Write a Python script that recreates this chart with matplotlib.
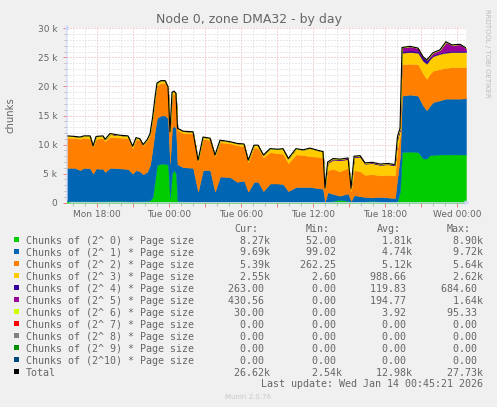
import numpy as np
import matplotlib
matplotlib.use("Agg")
import matplotlib.pyplot as plt
from matplotlib.patches import Rectangle

# hours relative to Mon 18:00
hours = [-2.50, -1.83, -1.42, -1.08, -0.58, -0.33, -0.08, 0.50, 0.67, 1.08, 1.92, 2.58, 2.97, 3.25,
         3.58, 3.83, 4.17, 4.42, 4.64, 4.83, 5.00, 5.33, 5.67, 5.92, 6.08, 6.25, 6.42, 6.58, 6.71,
         7.17, 8.00, 8.42, 8.83, 9.42, 9.83, 10.25, 11.08, 11.67, 12.25, 12.60, 13.08, 13.42, 13.86,
         14.42, 15.08, 15.50, 15.94, 16.58, 17.17, 17.75, 18.42, 18.83, 19.00,
         19.22, 19.67, 20.25, 20.92, 21.17, 21.42, 21.92, 22.33, 22.92, 23.58, 24.25, 24.83, 25.04, 25.25,
         25.42, 26.08, 26.75, 27.17, 27.47, 27.75, 28.00, 28.58, 29.08, 29.58, 30.25, 30.75]

# values in thousands of chunks
order0 = [0.25, 0.25, 0.25, 0.25, 0.25, 0.20, 0.25, 0.25, 0.25, 0.30, 0.30, 0.25, 0.20, 0.25,
          0.25, 0.25, 0.30, 0.40, 1.00, 4.00, 6.50, 6.70, 6.70, 6.50, 0.80, 5.00, 5.60, 5.00, 0.30,
          0.20, 0.20, 0.10, 0.20, 0.20, 0.10, 0.20, 0.20, 0.20, 0.20, 0.10, 0.20, 0.20, 0.10,
          0.20, 0.20, 0.20, 0.10, 0.20, 0.20, 0.20, 0.20, 0.10, 0.05,
          0.10, 0.30, 0.50, 0.30, 0.10, 0.10, 0.10, 0.20, 0.30, 0.20, 0.10, 0.10, 0.30, 2.00,
          8.70, 8.80, 8.70, 7.60, 7.60, 8.20, 8.20, 8.30, 8.30, 8.30, 8.30, 8.27]
order1 = [5.75, 5.75, 5.35, 5.75, 5.65, 4.80, 5.65, 5.55, 5.05, 5.70, 5.60, 5.55, 4.80, 5.35,
          5.15, 4.65, 5.00, 6.10, 8.50, 8.50, 8.10, 8.30, 8.30, 8.00, 6.00, 7.90, 7.60, 7.80, 6.30,
          5.90, 5.80, 1.80, 5.40, 5.40, 1.80, 4.30, 4.20, 3.40, 3.60, 1.80, 3.40, 3.40, 1.90,
          3.10, 3.10, 3.00, 1.90, 2.50, 2.50, 2.50, 2.30, 2.30, 0.15,
          1.70, 1.20, 0.70, 1.30, 0.20, 1.20, 1.00, 0.80, 0.60, 0.80, 0.80, 0.70, 4.20, 6.00,
          9.70, 9.80, 9.70, 9.10, 8.30, 8.50, 9.10, 9.30, 9.60, 9.60, 9.60, 9.69]
order2 = [5.20, 5.10, 5.40, 5.20, 5.10, 4.60, 5.10, 5.30, 5.30, 5.30, 5.30, 5.30, 4.40, 5.30,
          5.40, 4.90, 5.30, 5.10, 5.00, 5.30, 5.60, 5.60, 5.60, 5.10, 5.20, 5.60, 5.60, 5.60, 5.90,
          5.90, 5.90, 5.20, 5.40, 5.20, 6.10, 5.90, 5.80, 6.30, 5.90, 5.10, 5.90, 5.80, 5.80,
          5.40, 5.20, 5.20, 4.80, 5.60, 5.50, 5.30, 5.40, 5.30, 2.20,
          3.80, 4.30, 4.20, 4.40, 1.70, 4.30, 4.30, 3.80, 4.00, 3.70, 3.90, 3.90, 5.00, 3.50,
          5.40, 5.30, 5.40, 5.50, 5.40, 5.50, 5.40, 5.40, 5.30, 5.40, 5.40, 5.39]
order3 = [0.30, 0.30, 0.30, 0.30, 0.50, 0.20, 0.40, 0.40, 0.30, 0.50, 0.40, 0.40, 0.30, 0.30,
          0.20, 0.20, 0.20, 0.30, 0.30, 0.30, 0.40, 0.40, 0.40, 0.30, 0.20, 0.50, 0.40, 0.40, 0.30,
          0.30, 0.30, 0.20, 0.30, 0.30, 0.20, 0.35, 0.30, 0.30, 0.40, 0.30, 0.40, 0.50, 0.40,
          0.60, 0.70, 0.90, 0.80, 1.00, 0.90, 1.40, 1.10, 1.10, 0.14,
          1.20, 1.60, 1.90, 1.50, 0.40, 2.20, 2.50, 1.90, 1.90, 1.80, 1.80, 1.70, 1.50, 1.00,
          2.00, 2.00, 2.00, 2.20, 2.60, 2.50, 2.50, 2.60, 2.60, 2.60, 2.60, 2.55]
order4 = [0.0] * 53 + \
         [0.10, 0.10, 0.10, 0.10, 0.05, 0.10, 0.10, 0.08, 0.08, 0.08, 0.08, 0.08, 0.20, 0.15,
          0.30, 0.30, 0.30, 0.50, 0.68, 0.30, 0.20, 0.20, 0.20, 0.25, 0.25, 0.263]
order5 = [0.0] * 9 + [0.10] + [0.0] * 43 + \
         [0.10, 0.10, 0.10, 0.10, 0.05, 0.10, 0.10, 0.07, 0.07, 0.07, 0.07, 0.07, 0.20, 0.15,
          0.60, 0.70, 0.50, 0.20, 0.00, 0.20, 0.40, 0.50, 1.60, 1.00, 1.10, 0.43]
order6 = [0.0] * 75 + [0.09, 0.0, 0.0, 0.03]

xlabels = ["Mon 18:00", "Tue 00:00", "Tue 06:00", "Tue 12:00", "Tue 18:00", "Wed 00:00"]
ylabels = ["0", "5 k", "10 k", "15 k", "20 k", "25 k", "30 k"]

colors = ["#00CC00", "#0066B3", "#FF8000", "#FFCC00", "#330099", "#990099", "#CCFF00",
          "#FF0000", "#808080", "#008F00", "#00487D", "#000000"]
names = ["Chunks of (2^%2d) * Page size" % k for k in range(11)] + ["Total"]
cur = ["8.27k", "9.69k", "5.39k", "2.55k", "263.00", "430.56", "30.00", "0.00", "0.00", "0.00", "0.00", "26.62k"]
mins = ["52.00", "99.02", "262.25", "2.60", "0.00", "0.00", "0.00", "0.00", "0.00", "0.00", "0.00", "2.54k"]
avgs = ["1.81k", "4.74k", "5.12k", "988.66", "119.83", "194.77", "3.92", "0.00", "0.00", "0.00", "0.00", "12.98k"]
maxs = ["8.90k", "9.72k", "5.64k", "2.62k", "684.60", "1.64k", "95.33", "0.00", "0.00", "0.00", "0.00", "27.73k"]

W, H = 497, 407
FONT = "#666666"
GRID = "#D4D4D4"
MGRID = "#F0A8A8"
AXIS = "#CFD6F8"

def fx(x):
    return x / W

def fy(y):
    return 1 - y / H

fig = plt.figure(figsize=(W / 100, H / 100), dpi=100, facecolor="#F0F0F0")
ax = fig.add_axes([fx(67), fy(202.7), (466 - 67) / W, (202.7 - 28.3) / H])
ax.set_facecolor("white")

t = np.array(hours)
layers = [order0, order1, order2, order3, order4, order5, order6]
base = np.zeros(len(t))
for vals, c in zip(layers, colors):
    top = base + np.array(vals) * 1000
    ax.fill_between(t, base, top, facecolor=c, edgecolor=c, lw=0.3, zorder=1)
    base = top
ax.plot(t, base, color="black", lw=0.8, zorder=4)

ax.set_xlim(-2.5, 30.75)
ax.set_ylim(0, 30000)
ax.set_xticks(np.arange(0, 31, 3))
ax.set_xticklabels([xlabels[i // 2] if i % 2 == 0 else "" for i in range(11)])
ax.set_xticks(np.arange(-2, 31, 1), minor=True)
ax.set_yticks(np.arange(0, 30001, 5000))
ax.set_yticklabels(ylabels)
ax.set_yticks(np.arange(0, 30001, 1000), minor=True)
ax.set_axisbelow(True)
ax.grid(which="major", color=MGRID, linestyle=(0, (1, 2)), lw=0.72)
ax.grid(which="minor", color=GRID, linestyle=(0, (1, 2)), lw=0.72)
ax.tick_params(which="major", length=3, width=0.72, color=(0.95, 0.5, 0.5), labelsize=6.5,
               labelcolor=FONT, pad=2)
ax.tick_params(which="minor", length=2, width=0.72, color="#BBBBBB")
ax.tick_params(axis="y", pad=4)
for s in ax.spines.values():
    s.set_visible(False)

# axis lines with arrows
ax.annotate("", xy=(0, 1.036), xytext=(0, 0), xycoords="axes fraction",
            arrowprops=dict(arrowstyle="-|>", color=AXIS, lw=0.8, mutation_scale=6),
            annotation_clip=False, zorder=5)
ax.annotate("", xy=(1.016, 0), xytext=(0, 0), xycoords="axes fraction",
            arrowprops=dict(arrowstyle="-|>", color=AXIS, lw=0.8, mutation_scale=6),
            annotation_clip=False, zorder=5)

fig.text(fx(249), fy(19.5), "Node 0, zone DMA32 - by day", ha="center", va="center",
         fontsize=9, color=FONT)
fig.text(fx(11), fy(115), "chunks", rotation=90, ha="center", va="center", fontsize=7.3, color=FONT)
fig.text(fx(487.5), fy(53), "RRDTOOL / TOBI OETIKER", rotation=270, ha="center", va="center",
         fontsize=5, color="#BBBBBB")

# legend
mono = "DejaVu Sans Mono"
fs = 7.2
col_start = [228.5, 299.5, 370.5, 441.0]
for x0, head in zip(col_start, ["Cur:", "Min:", "Avg:", "Max:"]):
    fig.text(fx(x0 + 6), fy(231.5), head, ha="left", va="baseline", family=mono, fontsize=fs, color=FONT)

def field(s):
    s = s if s.endswith("k") else s + " "
    return s.rjust(7)

for i, name in enumerate(names):
    yb = 243.5 + 12 * i
    fig.add_artist(Rectangle((fx(14), fy(yb - 1.2)), 5.3 / W, 5.3 / H, transform=fig.transFigure,
                             facecolor=colors[i], edgecolor="none"))
    fig.text(fx(26), fy(yb), name, ha="left", va="baseline", family=mono, fontsize=fs, color=FONT)
    for x0, col in zip(col_start, [cur, mins, avgs, maxs]):
        fig.text(fx(x0), fy(yb), field(col[i]), ha="left", va="baseline", family=mono,
                 fontsize=fs, color=FONT)

fig.text(fx(483), fy(387), "Last update: Wed Jan 14 00:45:21 2026", ha="right", va="baseline",
         family=mono, fontsize=fs, color=FONT)
fig.text(fx(248), fy(399), "Munin 2.0.76", ha="center", va="baseline", fontsize=5, color="#C8C8C8")

fig.savefig("out.png", dpi=100, facecolor=fig.get_facecolor())
